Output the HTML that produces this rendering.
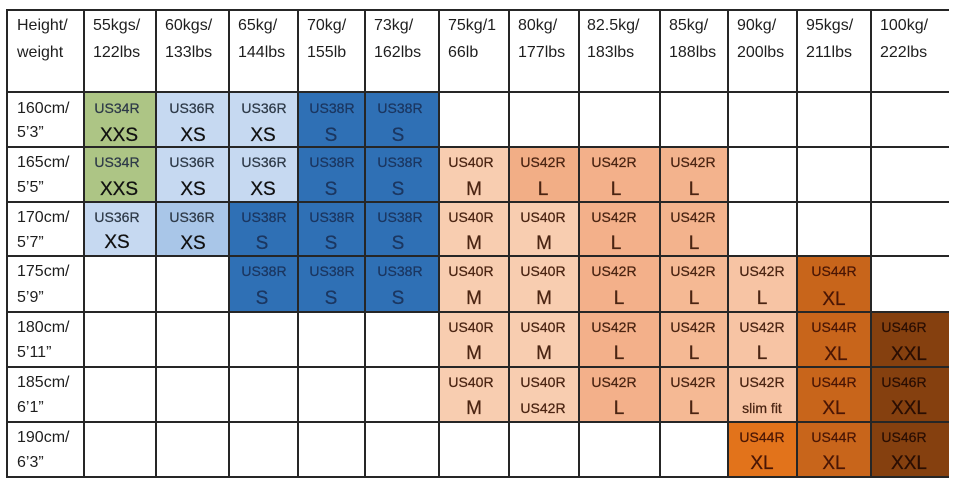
<!DOCTYPE html>
<html><head><meta charset="utf-8"><style>
html,body{margin:0;padding:0;background:#fff;width:962px;height:486px;overflow:hidden}
svg{display:block}
text{font-family:"Liberation Sans",sans-serif}
.h{font-size:16px;fill:#1e1e1e}
.u{font-size:14px;text-anchor:middle;stroke-width:0.25}
.s{font-size:19px;text-anchor:middle;stroke-width:0.25}
</style></head><body>
<svg width="962" height="486" viewBox="0 0 962 486" xmlns="http://www.w3.org/2000/svg">
<rect width="962" height="486" fill="#fff"/>
<g>
<rect x="84" y="92" width="72" height="55" fill="#adc585"/>
<rect x="156" y="92" width="73" height="55" fill="#c6d9f1"/>
<rect x="229" y="92" width="69" height="55" fill="#c6d9f1"/>
<rect x="298" y="92" width="67" height="55" fill="#2f70b5"/>
<rect x="365" y="92" width="74" height="55" fill="#2f70b5"/>
<rect x="84" y="147" width="72" height="55" fill="#adc585"/>
<rect x="156" y="147" width="73" height="55" fill="#c6d9f1"/>
<rect x="229" y="147" width="69" height="55" fill="#c6d9f1"/>
<rect x="298" y="147" width="67" height="55" fill="#2f70b5"/>
<rect x="365" y="147" width="74" height="55" fill="#2f70b5"/>
<rect x="439" y="147" width="70" height="55" fill="#f8cdb0"/>
<rect x="509" y="147" width="70" height="55" fill="#f2ae86"/>
<rect x="579" y="147" width="81" height="55" fill="#f3b08a"/>
<rect x="660" y="147" width="68" height="55" fill="#f3b38d"/>
<rect x="84" y="202" width="72" height="54" fill="#c6d9f1"/>
<rect x="156" y="202" width="73" height="54" fill="#a9c6e8"/>
<rect x="229" y="202" width="69" height="54" fill="#2f70b5"/>
<rect x="298" y="202" width="67" height="54" fill="#2f70b5"/>
<rect x="365" y="202" width="74" height="54" fill="#2f70b5"/>
<rect x="439" y="202" width="70" height="54" fill="#f8cdb0"/>
<rect x="509" y="202" width="70" height="54" fill="#f8cdb0"/>
<rect x="579" y="202" width="81" height="54" fill="#f3b08a"/>
<rect x="660" y="202" width="68" height="54" fill="#f3b38d"/>
<rect x="229" y="256" width="69" height="56" fill="#2f70b5"/>
<rect x="298" y="256" width="67" height="56" fill="#2f70b5"/>
<rect x="365" y="256" width="74" height="56" fill="#2f70b5"/>
<rect x="439" y="256" width="70" height="56" fill="#f8cdb0"/>
<rect x="509" y="256" width="70" height="56" fill="#f8cdb0"/>
<rect x="579" y="256" width="81" height="56" fill="#f3b08a"/>
<rect x="660" y="256" width="68" height="56" fill="#f5b994"/>
<rect x="728" y="256" width="69" height="56" fill="#f7c4a4"/>
<rect x="797" y="256" width="74" height="56" fill="#c8651b"/>
<rect x="439" y="312" width="70" height="55" fill="#f8cdb0"/>
<rect x="509" y="312" width="70" height="55" fill="#f8cdb0"/>
<rect x="579" y="312" width="81" height="55" fill="#f3b08a"/>
<rect x="660" y="312" width="68" height="55" fill="#f5b994"/>
<rect x="728" y="312" width="69" height="55" fill="#f7c4a4"/>
<rect x="797" y="312" width="74" height="55" fill="#c8651b"/>
<rect x="871" y="312" width="78" height="55" fill="#85400f"/>
<rect x="439" y="367" width="70" height="55" fill="#f8cdb0"/>
<rect x="509" y="367" width="70" height="55" fill="#f8cdb0"/>
<rect x="579" y="367" width="81" height="55" fill="#f3b08a"/>
<rect x="660" y="367" width="68" height="55" fill="#f5b994"/>
<rect x="728" y="367" width="69" height="55" fill="#f7c4a4"/>
<rect x="797" y="367" width="74" height="55" fill="#c8651b"/>
<rect x="871" y="367" width="78" height="55" fill="#85400f"/>
<rect x="728" y="422" width="69" height="55" fill="#e2731b"/>
<rect x="797" y="422" width="74" height="55" fill="#c8651b"/>
<rect x="871" y="422" width="78" height="55" fill="#85400f"/>
</g>
<g stroke="#262626" stroke-width="2">
<line x1="7" y1="10" x2="949" y2="10"/>
<line x1="7" y1="92" x2="949" y2="92"/>
<line x1="7" y1="147" x2="949" y2="147"/>
<line x1="7" y1="202" x2="949" y2="202"/>
<line x1="7" y1="256" x2="949" y2="256"/>
<line x1="7" y1="312" x2="949" y2="312"/>
<line x1="7" y1="367" x2="949" y2="367"/>
<line x1="7" y1="422" x2="949" y2="422"/>
<line x1="7" y1="477" x2="949" y2="477"/>
<line x1="7" y1="9" x2="7" y2="478"/>
<line x1="84" y1="9" x2="84" y2="478"/>
<line x1="156" y1="9" x2="156" y2="478"/>
<line x1="229" y1="9" x2="229" y2="478"/>
<line x1="298" y1="9" x2="298" y2="478"/>
<line x1="365" y1="9" x2="365" y2="478"/>
<line x1="439" y1="9" x2="439" y2="478"/>
<line x1="509" y1="9" x2="509" y2="478"/>
<line x1="579" y1="9" x2="579" y2="478"/>
<line x1="660" y1="9" x2="660" y2="478"/>
<line x1="728" y1="9" x2="728" y2="478"/>
<line x1="797" y1="9" x2="797" y2="478"/>
<line x1="871" y1="9" x2="871" y2="478"/>
</g>
<g class="h">
<text class="h" x="17" y="30">Height/</text><text class="h" x="17" y="57">weight</text>
<text class="h" x="93" y="30">55kgs/</text><text class="h" x="93" y="57">122lbs</text>
<text class="h" x="165" y="30">60kgs/</text><text class="h" x="165" y="57">133lbs</text>
<text class="h" x="238" y="30">65kg/</text><text class="h" x="238" y="57">144lbs</text>
<text class="h" x="307" y="30">70kg/</text><text class="h" x="307" y="57">155lb</text>
<text class="h" x="374" y="30">73kg/</text><text class="h" x="374" y="57">162lbs</text>
<text class="h" x="448" y="30">75kg/1</text><text class="h" x="448" y="57">66lb</text>
<text class="h" x="518" y="30">80kg/</text><text class="h" x="518" y="57">177lbs</text>
<text class="h" x="587" y="30">82.5kg/</text><text class="h" x="587" y="57">183lbs</text>
<text class="h" x="669" y="30">85kg/</text><text class="h" x="669" y="57">188lbs</text>
<text class="h" x="737" y="30">90kg/</text><text class="h" x="737" y="57">200lbs</text>
<text class="h" x="806" y="30">95kgs/</text><text class="h" x="806" y="57">211lbs</text>
<text class="h" x="880" y="30">100kg/</text><text class="h" x="880" y="57">222lbs</text>
</g>
<g>
<text class="h" x="17" y="113">160cm/</text><text class="h" x="17" y="137">5’3”</text>
<text class="h" x="17" y="167">165cm/</text><text class="h" x="17" y="192">5’5”</text>
<text class="h" x="17" y="222">170cm/</text><text class="h" x="17" y="247">5’7”</text>
<text class="h" x="17" y="276">175cm/</text><text class="h" x="17" y="302">5’9”</text>
<text class="h" x="17" y="332">180cm/</text><text class="h" x="17" y="357">5’11”</text>
<text class="h" x="17" y="387">185cm/</text><text class="h" x="17" y="412">6’1”</text>
<text class="h" x="17" y="442">190cm/</text><text class="h" x="17" y="467">6’3”</text>
</g>
<g fill="#2e3a48" stroke="#2e3a48">
<text class="u" x="117" y="113">US34R</text><text class="s" x="119" y="141" fill="#111" stroke="#111">XXS</text>
<text class="u" x="192" y="113">US36R</text><text class="s" x="193" y="141" fill="#111" stroke="#111">XS</text>
<text class="u" x="264" y="113">US36R</text><text class="s" x="263" y="141" fill="#111" stroke="#111">XS</text>
<text class="u" x="117" y="167">US34R</text><text class="s" x="119" y="195" fill="#111" stroke="#111">XXS</text>
<text class="u" x="192" y="167">US36R</text><text class="s" x="193" y="195" fill="#111" stroke="#111">XS</text>
<text class="u" x="264" y="167">US36R</text><text class="s" x="263" y="195" fill="#111" stroke="#111">XS</text>
<text class="u" x="117" y="222">US36R</text><text class="s" x="117" y="248" fill="#111" stroke="#111">XS</text>
<text class="u" x="192" y="222">US36R</text><text class="s" x="193" y="249" fill="#111" stroke="#111">XS</text>
</g>
<g fill="#1b3660" stroke="#1b3660">
<text class="u" x="332" y="113">US38R</text><text class="s" x="331" y="141">S</text>
<text class="u" x="400" y="113">US38R</text><text class="s" x="398" y="141">S</text>
<text class="u" x="332" y="167">US38R</text><text class="s" x="331" y="195">S</text>
<text class="u" x="400" y="167">US38R</text><text class="s" x="398" y="195">S</text>
<text class="u" x="264" y="222">US38R</text><text class="s" x="262" y="249">S</text>
<text class="u" x="332" y="222">US38R</text><text class="s" x="331" y="249">S</text>
<text class="u" x="400" y="222">US38R</text><text class="s" x="398" y="249">S</text>
<text class="u" x="264" y="276">US38R</text><text class="s" x="262" y="304">S</text>
<text class="u" x="332" y="276">US38R</text><text class="s" x="331" y="304">S</text>
<text class="u" x="400" y="276">US38R</text><text class="s" x="398" y="304">S</text>
</g>
<g fill="#4a2412" stroke="#4a2412">
<text class="u" x="471" y="167">US40R</text><text class="s" x="474" y="195">M</text>
<text class="u" x="543" y="167">US42R</text><text class="s" x="543" y="195">L</text>
<text class="u" x="614" y="167">US42R</text><text class="s" x="616" y="195">L</text>
<text class="u" x="693" y="167">US42R</text><text class="s" x="694" y="195">L</text>
<text class="u" x="471" y="222">US40R</text><text class="s" x="474" y="249">M</text>
<text class="u" x="543" y="222">US40R</text><text class="s" x="544" y="249">M</text>
<text class="u" x="614" y="222">US42R</text><text class="s" x="616" y="249">L</text>
<text class="u" x="693" y="222">US42R</text><text class="s" x="694" y="249">L</text>
<text class="u" x="471" y="276">US40R</text><text class="s" x="474" y="304">M</text>
<text class="u" x="543" y="276">US40R</text><text class="s" x="544" y="304">M</text>
<text class="u" x="614" y="276">US42R</text><text class="s" x="619" y="304">L</text>
<text class="u" x="693" y="276">US42R</text><text class="s" x="694" y="304">L</text>
<text class="u" x="762" y="276">US42R</text><text class="s" x="762" y="304">L</text>
<text class="u" x="471" y="332">US40R</text><text class="s" x="474" y="359">M</text>
<text class="u" x="543" y="332">US40R</text><text class="s" x="544" y="359">M</text>
<text class="u" x="614" y="332">US42R</text><text class="s" x="619" y="359">L</text>
<text class="u" x="693" y="332">US42R</text><text class="s" x="694" y="359">L</text>
<text class="u" x="762" y="332">US42R</text><text class="s" x="762" y="359">L</text>
<text class="u" x="471" y="387">US40R</text><text class="s" x="474" y="414">M</text>
<text class="u" x="543" y="387">US40R</text><text class="u" x="543" y="413">US42R</text>
<text class="u" x="614" y="387">US42R</text><text class="s" x="619" y="414">L</text>
<text class="u" x="693" y="387">US42R</text><text class="s" x="694" y="414">L</text>
<text class="u" x="762" y="387">US42R</text><text class="u" x="762" y="413">slim fit</text>
</g>
<g fill="#4a1605" stroke="#4a1605">
<text class="u" x="834" y="276">US44R</text><text class="s" x="834" y="305">XL</text>
<text class="u" x="834" y="332">US44R</text><text class="s" x="836" y="360">XL</text>
<text class="u" x="834" y="387">US44R</text><text class="s" x="834" y="414">XL</text>
<text class="u" x="762" y="442">US44R</text><text class="s" x="762" y="469">XL</text>
<text class="u" x="834" y="442">US44R</text><text class="s" x="834" y="469">XL</text>
</g>
<g fill="#2a0e03" stroke="#2a0e03">
<text class="u" x="904" y="332">US46R</text><text class="s" x="909" y="360">XXL</text>
<text class="u" x="904" y="387">US46R</text><text class="s" x="909" y="414">XXL</text>
<text class="u" x="904" y="442">US46R</text><text class="s" x="909" y="469">XXL</text>
</g>
</svg>
</body></html>
